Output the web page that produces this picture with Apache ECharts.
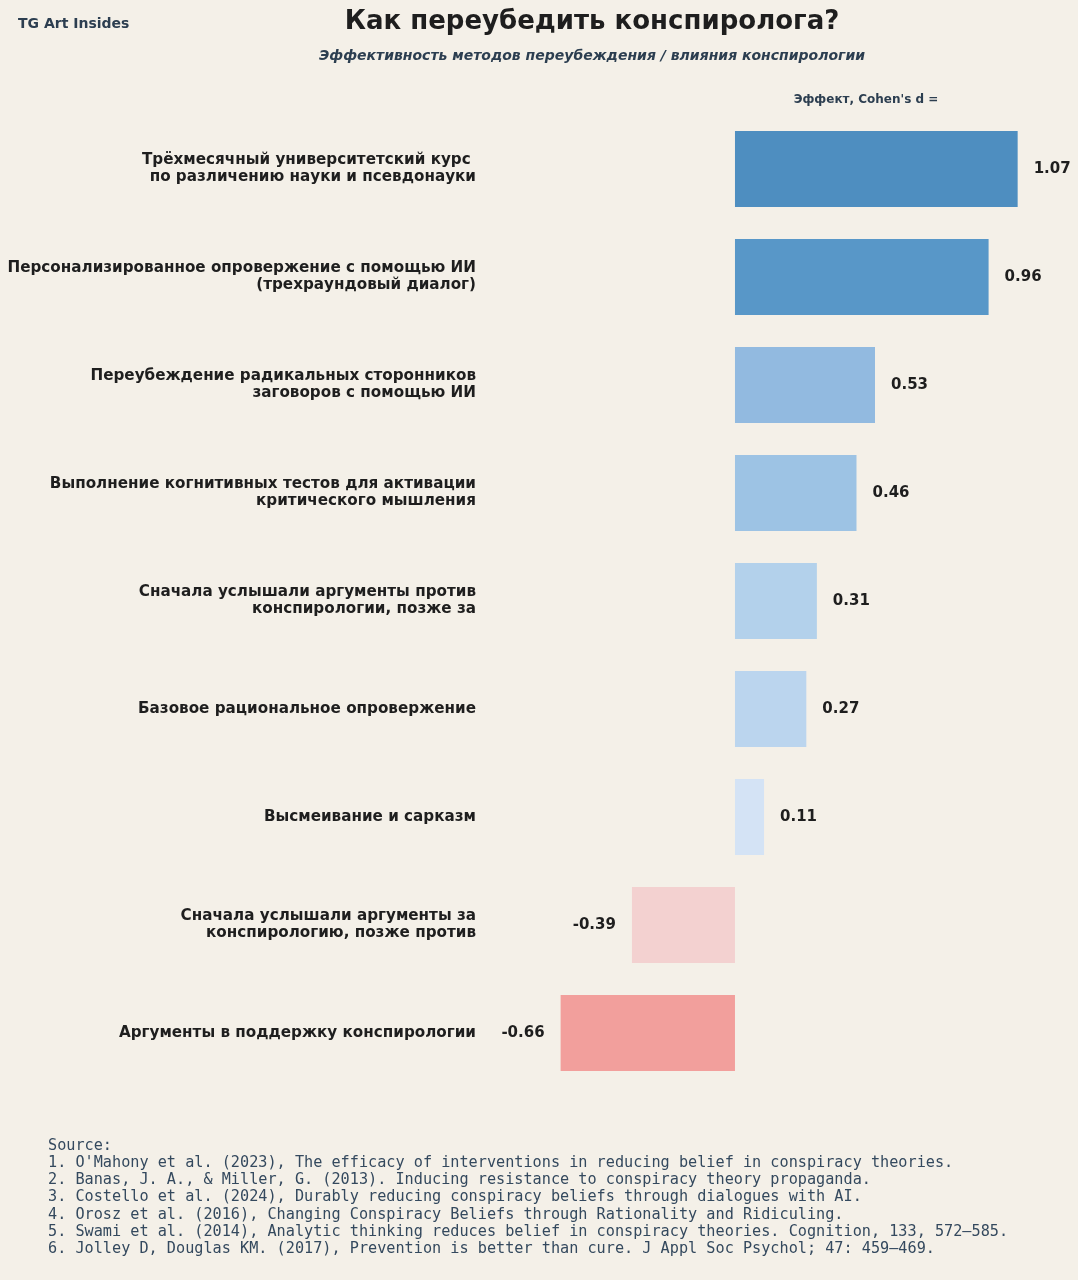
<!DOCTYPE html>
<html>
<head>
<meta charset="utf-8">
<script src="https://cdn.jsdelivr.net/npm/echarts@6/dist/echarts.min.js"></script>
<style>
  html, body { margin: 0; padding: 0; background: #f4f0e8; }
  #chart { width: 1078px; height: 1280px; }
</style>
</head>
<body>
<div id="chart"></div>
<script>
// данные
const categories = [
  'Трёхмесячный университетский курс \nпо различению науки и псевдонауки',
  'Персонализированное опровержение с помощью ИИ\n(трехраундовый диалог)',
  'Переубеждение радикальных сторонников\nзаговоров с помощью ИИ',
  'Выполнение когнитивных тестов для активации\nкритического мышления',
  'Сначала услышали аргументы против\nконспирологии, позже за',
  'Базовое рациональное опровержение',
  'Высмеивание и сарказм',
  'Сначала услышали аргументы за\nконспирологию, позже против',
  'Аргументы в поддержку конспирологии'
];
const effects = [1.07, 0.96, 0.53, 0.46, 0.31, 0.27, 0.11, -0.39, -0.66];

const sources = [
  'Source:',
  "1. O'Mahony et al. (2023), The efficacy of interventions in reducing belief in conspiracy theories.",
  '2. Banas, J. A., & Miller, G. (2013). Inducing resistance to conspiracy theory propaganda.',
  '3. Costello et al. (2024), Durably reducing conspiracy beliefs through dialogues with AI.',
  '4. Orosz et al. (2016), Changing Conspiracy Beliefs through Rationality and Ridiculing.',
  '5. Swami et al. (2014), Analytic thinking reduces belief in conspiracy theories. Cognition, 133, 572–585.',
  '6. Jolley D, Douglas KM. (2017), Prevention is better than cure. J Appl Soc Psychol; 47: 459–469.'
];

// цвета столбцов (сверху вниз)
const barColors = ['#4e8ec0', '#5897c8', '#92bae0', '#9dc3e4', '#b3d1eb', '#bbd5ee', '#d4e3f5', '#f3d1d0', '#f29f9c'];

const chart = echarts.init(document.getElementById('chart'));

const option = {
  backgroundColor: '#f4f0e8',
  animation: false,
  title: [
    {
      text: 'Как переубедить конспиролога?',
      left: 592, top: 9, textAlign: 'center', padding: 0,
      textStyle: { fontFamily: 'DejaVu Sans', fontSize: 26, fontWeight: 'bold', color: '#1e1e1e' }
    },
    {
      text: 'Эффективность методов переубеждения / влияния конспирологии',
      left: 592, top: 49, textAlign: 'center', padding: 0,
      textStyle: { fontFamily: 'DejaVu Sans', fontSize: 14, fontWeight: 'bold', fontStyle: 'italic', color: '#2c3e50' }
    },
    {
      text: 'TG Art Insides',
      left: 18, top: 17, padding: 0,
      textStyle: { fontFamily: 'DejaVu Sans', fontSize: 14, fontWeight: 'bold', color: '#2c3e50' }
    },
    {
      text: "Эффект, Cohen's d =",
      left: 866, top: 94, textAlign: 'center', padding: 0,
      textStyle: { fontFamily: 'DejaVu Sans', fontSize: 12, fontWeight: 'bold', color: '#2c3e50' }
    }
  ],
  grid: { left: 484, right: 26, top: 115, bottom: 193, containLabel: false },
  xAxis: {
    type: 'value', min: -0.95, max: 1.2, show: false
  },
  yAxis: {
    type: 'category',
    data: categories,
    inverse: true,
    axisLine: { show: false },
    axisTick: { show: false },
    splitLine: { show: false },
    axisLabel: {
      margin: 8,
      fontFamily: 'DejaVu Sans',
      fontSize: 15.2,
      fontWeight: 'bold',
      color: '#1e1e1e',
      lineHeight: 17,
      align: 'right',
      padding: [7, 0, 0, 0]
    }
  },
  series: [
    {
      type: 'bar',
      data: effects.map((v, i) => ({
        value: v,
        itemStyle: { color: barColors[i] },
        label: { position: v < 0 ? 'left' : 'right' }
      })),
      barWidth: 76,
      label: {
        show: true,
        distance: 16,
        formatter: (p) => p.value.toFixed(2),
        fontFamily: 'DejaVu Sans',
        fontSize: 15,
        fontWeight: 'bold',
        color: '#1e1e1e',
        padding: [2, 0, 0, 0]
      }
    }
  ],
  graphic: [
    {
      type: 'text',
      left: 48,
      top: 1137,
      style: {
        text: sources.join('\n'),
        font: '15.2px "DejaVu Sans Mono"',
        lineHeight: 17.3,
        fill: '#34495e'
      }
    }
  ]
};

chart.setOption(option);
</script>
</body>
</html>
